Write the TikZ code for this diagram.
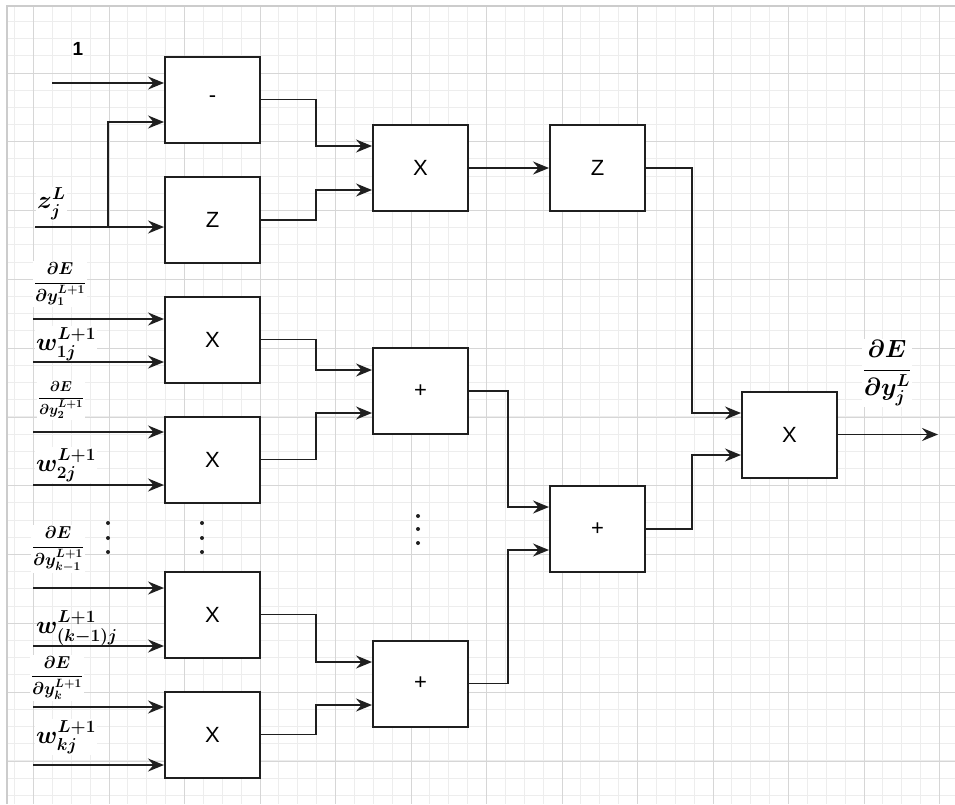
\documentclass[tikz,border=0pt]{standalone}
\usepackage{amsmath}
\usepackage[no-math]{fontspec}
\setsansfont{Liberation Sans}
\usetikzlibrary{arrows.meta,calc}
\begin{document}
\begin{tikzpicture}[x=1pt,y=-1pt,
  box/.style={draw=black!88, line width=2pt, fill=white, minimum width=95pt, minimum height=86pt, inner sep=0pt, font=\sffamily\fontsize{22}{24}\selectfont},
  wire/.style={draw=black!88, line width=1.8pt},
  arr/.style={wire, -{Stealth[length=16pt,width=13pt,inset=5.5pt]}},
  lab/.style={fill=white, inner sep=1pt},
  labnf/.style={inner sep=1pt},
  minorline/.style={draw=black!7, line width=1pt},
  majorline/.style={draw=black!16, line width=1.3pt},
  dotm/.style={fill=black!88}
]
\useasboundingbox (0,0) rectangle (955,804);
\fill[white] (0,0) rectangle (955,804);
% grid
\begin{scope}
\clip (7,6) rectangle (955,804);
\foreach \i in {-1,...,49} { \draw[minorline] ({floor(33.5+18.875*\i)+0.5},6) -- ({floor(33.5+18.875*\i)+0.5},804); }
\foreach \i in {-4,...,43} { \draw[minorline] (7,{floor(73+17.2*\i)+0.5}) -- (955,{floor(73+17.2*\i)+0.5}); }
\foreach \k in {0,...,12} { \draw[majorline] ({floor(33.5+75.5*\k)+0.5},6) -- ({floor(33.5+75.5*\k)+0.5},804); }
\foreach \k in {-1,...,11} { \draw[majorline] (7,{floor(73+68.8*\k)+0.5}) -- (955,{floor(73+68.8*\k)+0.5}); }
\end{scope}
\draw[black!20, line width=1.2pt] (7,804) -- (7,6) -- (955,6);

% boxes
\node[box] (minus) at (212.5,99.5) {-};
\node[box] (zb) at (212.5,220) {Z};
\node[box] (m1) at (420.5,168) {X};
\node[box] (z2) at (597.5,168) {Z};
\node[box] (xa) at (212.5,339.5) {X};
\node[box] (xb) at (212.5,459.5) {X};
\node[box] (xc) at (212.5,614.5) {X};
\node[box] (xd) at (212.5,734.5) {X};
\node[box] (p1) at (420.5,391) {+};
\node[box] (p2) at (420.5,683.5) {+};
\node[box] (p3) at (597.5,529) {+};
\node[box] (fin) at (789.5,434.5) {X};

% labels
\node[lab] (l1) at (78,49) {\sffamily\bfseries\fontsize{19}{21}\selectfont 1};
\node[lab, anchor=west, font=\fontsize{25}{27}\selectfont\boldmath] (lz) at (36,204) {$z_j^L$};
\node[lab, font=\fontsize{18}{20}\selectfont\boldmath] (la) at (60,284) {$\dfrac{\partial E}{\partial y_1^{L+1}}$};
\node[lab, anchor=west, font=\fontsize{26}{28}\selectfont\boldmath] (lwa) at (35,344) {$w_{1j}^{L+1}$};
\node[lab, font=\fontsize{15}{17}\selectfont\boldmath] (lb) at (61,400) {$\dfrac{\partial E}{\partial y_2^{L+1}}$};
\node[lab, anchor=west, font=\fontsize{26}{28}\selectfont\boldmath] (lwb) at (35,465) {$w_{2j}^{L+1}$};
\node[lab, font=\fontsize{17}{19}\selectfont\boldmath] (lc) at (58,549) {$\dfrac{\partial E}{\partial y_{k-1}^{L+1}}$};
\node[labnf, anchor=west, font=\fontsize{25}{27}\selectfont\boldmath] (lwc) at (35,628) {$w_{(k-1)j}^{L+1}$};
\node[lab, font=\fontsize{17}{19}\selectfont\boldmath] (ld) at (57,678) {$\dfrac{\partial E}{\partial y_k^{L+1}}$};
\node[lab, anchor=west, font=\fontsize{26}{28}\selectfont\boldmath] (lwd) at (35,737) {$w_{kj}^{L+1}$};
\node[lab, font=\fontsize{27}{29}\selectfont\boldmath] (lout) at (887,373) {$\dfrac{\partial E}{\partial y_j^L}$};

% input ends
\coordinate (i1) at (52,83);
\coordinate (iz) at (35,227);
\coordinate (jz) at (108,227);
\coordinate (a1) at (33,319);
\coordinate (a2) at (33,362);
\coordinate (b1) at (33,432);
\coordinate (b2) at (33,485);
\coordinate (c1) at (33,588);
\coordinate (c2) at (33,646);
\coordinate (d1) at (33,707);
\coordinate (d2) at (33,765);
\coordinate (out) at (938,434.5);

\draw[arr] (i1) -- (i1 -| minus.west);
\draw[arr] (iz) -- (iz -| zb.west);
\draw[arr] (jz) |- ($(minus.west)+(0,22.5)$);
\draw[arr] (a1) -- (a1 -| xa.west);
\draw[arr] (a2) -- (a2 -| xa.west);
\draw[arr] (b1) -- (b1 -| xb.west);
\draw[arr] (b2) -- (b2 -| xb.west);
\draw[arr] (c1) -- (c1 -| xc.west);
\draw[arr] (c2) -- (c2 -| xc.west);
\draw[arr] (d1) -- (d1 -| xd.west);
\draw[arr] (d2) -- (d2 -| xd.west);

% internal connectors
\draw[arr] (minus.east) -| ($(m1.west)+(-56,-22)$) -- ($(m1.west)+(0,-22)$);
\draw[arr] (zb.east) -| ($(m1.west)+(-56,22)$) -- ($(m1.west)+(0,22)$);
\draw[arr] (m1.east) -- (z2.west);
\draw[arr] (z2.east) -| ($(fin.west)+(-49,-21.5)$) -- ($(fin.west)+(0,-21.5)$);
\draw[arr] (p3.east) -| ($(fin.west)+(-49,20.5)$) -- ($(fin.west)+(0,20.5)$);
\draw[arr] (xa.east) -| ($(p1.west)+(-56,-21)$) -- ($(p1.west)+(0,-21)$);
\draw[arr] (xb.east) -| ($(p1.west)+(-56,22)$) -- ($(p1.west)+(0,22)$);
\draw[arr] (xc.east) -| ($(p2.west)+(-56,-21.5)$) -- ($(p2.west)+(0,-21.5)$);
\draw[arr] (xd.east) -| ($(p2.west)+(-56,21.5)$) -- ($(p2.west)+(0,21.5)$);
\draw[arr] (p1.east) -| ($(p3.west)+(-41,-22)$) -- ($(p3.west)+(0,-22)$);
\draw[arr] (p2.east) -| ($(p3.west)+(-41,21)$) -- ($(p3.west)+(0,21)$);
\draw[arr] (fin.east) -- (out);

% dots
\foreach \x in {108,202} { \foreach \y in {523,538,552} { \fill[dotm] (\x,\y) circle (2pt); } }
\foreach \y in {516,529,543} { \fill[dotm] (418,\y) circle (2pt); }
\end{tikzpicture}
\end{document}
